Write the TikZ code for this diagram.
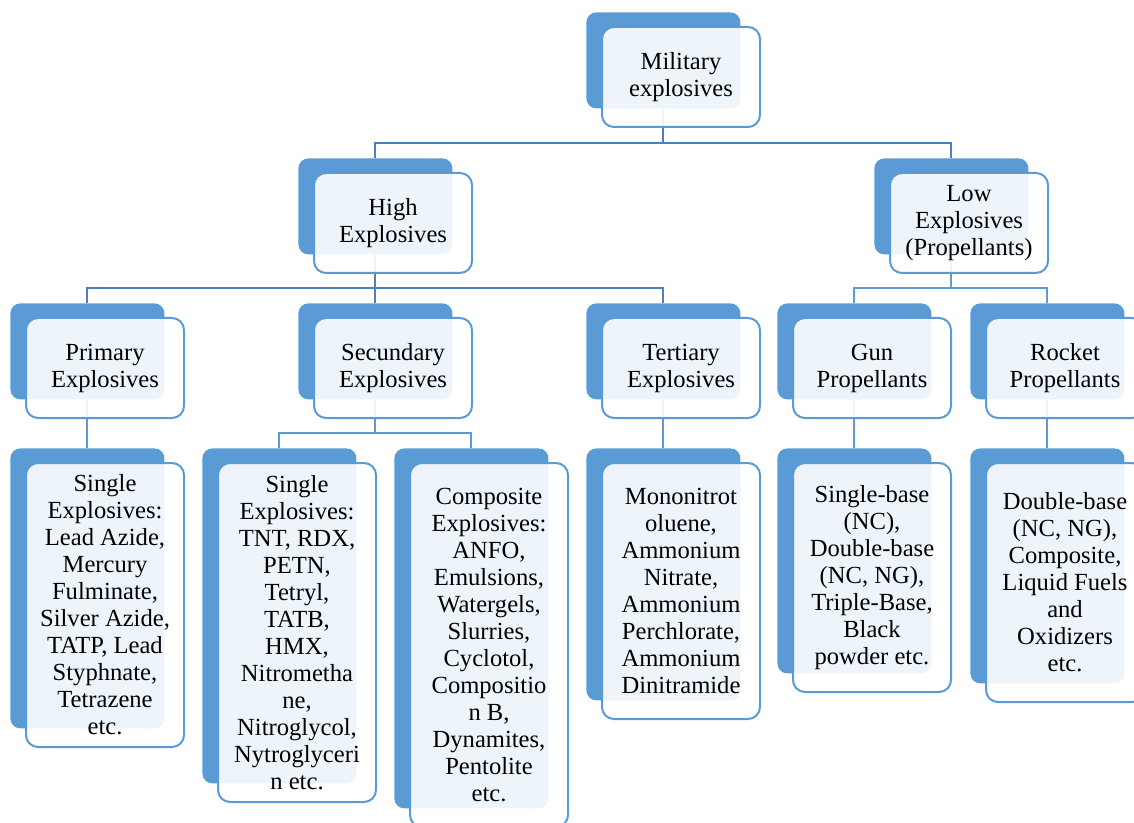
\documentclass[tikz,border=0pt]{standalone}
\usepackage{fontspec}
\setmainfont{Liberation Serif}
\definecolor{accent}{HTML}{5B9BD5}
\definecolor{linkdark}{HTML}{4A80BE}
\tikzset{
  backbox/.style={fill=accent, draw=none, rounded corners=5pt, inner sep=0pt,
    minimum width=77pt, anchor=north west},
  frontbox/.style={fill=white, fill opacity=0.9, text opacity=1, draw=accent,
    line width=1pt, rounded corners=6pt, inner sep=0pt, minimum width=79pt,
    align=center, font=\fontsize{12.3}{13.5}\selectfont},
  conn/.style={draw=accent, line width=1pt},
  conntop/.style={draw=linkdark, line width=1pt},
}
% #1 name, #2 left, #3 top, #4 height of the dark tab (all in px units)
\newcommand\tabbox[4]{%
  \node[backbox, minimum height={#4*0.5pt}] (#1b) at (#2,#3) {};}
% #1 name, #2 left, #3 top, #4 height of the dark tab, #5 text
\newcommand\facebox[5]{%
  \node[frontbox, minimum height={(#4+4)*0.5pt}] (#1) at (#2+16+79,#3+15+#4/2+2) {#5};}
\begin{document}
\begin{tikzpicture}[x=0.5pt, y=-0.5pt]
\useasboundingbox (0,0) rectangle (1134,823);
\clip (0,0) rectangle (1134,823);
% dark tabs
\tabbox{mil}{586}{12}{96}
\tabbox{high}{298}{158}{96}
\tabbox{low}{874}{158}{96}
\tabbox{prim}{10}{303}{96}
\tabbox{sec}{298}{303}{96}
\tabbox{ter}{586}{303}{96}
\tabbox{gun}{777}{303}{96}
\tabbox{rock}{970}{303}{96}
\tabbox{primleaf}{10}{448}{280}
\tabbox{secsingle}{202}{448}{335}
\tabbox{seccomp}{394}{448}{360}
\tabbox{terleaf}{586}{448}{252}
\tabbox{gunleaf}{777}{448}{225}
\tabbox{rockleaf}{970}{448}{235}
% connectors
\draw[conntop] (milb.south) -- ++(0,34) -| (highb.north);
\draw[conntop] (milb.south) -- ++(0,34) -| (lowb.north);
\draw[conntop] (highb.south) -- ++(0,33) -| (primb.north);
\draw[conntop] (highb.south) -- ++(0,33) -| (terb.north);
\draw[conntop] (highb.south) -- (secb.north);
\draw[conn] (lowb.south) -- ++(0,33) -| (gunb.north);
\draw[conn] (lowb.south) -- ++(0,33) -| (rockb.north);
\draw[conn] (primb.south) -- (primleafb.north);
\draw[conn] (secb.south) -- ++(0,33) -| (secsingleb.north);
\draw[conn] (secb.south) -- ++(0,33) -| (seccompb.north);
\draw[conn] (terb.south) -- (terleafb.north);
\draw[conn] (gunb.south) -- (gunleafb.north);
\draw[conn] (rockb.south) -- (rockleafb.north);
% text boxes
\facebox{mil}{586}{12}{96}{Military\\explosives}
\facebox{high}{298}{158}{96}{High\\Explosives}
\facebox{low}{874}{158}{96}{Low\\Explosives\\(Propellants)}
\facebox{prim}{10}{303}{96}{Primary\\Explosives}
\facebox{sec}{298}{303}{96}{Secundary\\Explosives}
\facebox{ter}{586}{303}{96}{Tertiary\\Explosives}
\facebox{gun}{777}{303}{96}{Gun\\Propellants}
\facebox{rock}{970}{303}{96}{Rocket\\Propellants}
\facebox{primleaf}{10}{448}{280}{Single\\Explosives:\\Lead Azide,\\Mercury\\Fulminate,\\Silver Azide,\\TATP, Lead\\Styphnate,\\Tetrazene\\etc.}
\facebox{secsingle}{202}{448}{335}{Single\\Explosives:\\TNT, RDX,\\PETN,\\Tetryl,\\TATB,\\HMX,\\Nitrometha\\ne,\\Nitroglycol,\\Nytroglyceri\\n etc.}
\facebox{seccomp}{394}{448}{360}{Composite\\Explosives:\\ANFO,\\Emulsions,\\Watergels,\\Slurries,\\Cyclotol,\\Compositio\\n B,\\Dynamites,\\Pentolite\\etc.}
\facebox{terleaf}{586}{448}{252}{Mononitrot\\oluene,\\Ammonium\\Nitrate,\\Ammonium\\Perchlorate,\\Ammonium\\Dinitramide}
\facebox{gunleaf}{777}{448}{225}{Single-base\\(NC),\\Double-base\\(NC, NG),\\Triple-Base,\\Black\\powder etc.}
\facebox{rockleaf}{970}{448}{235}{Double-base\\(NC, NG),\\Composite,\\Liquid Fuels\\and\\Oxidizers\\etc.}
\end{tikzpicture}
\end{document}
